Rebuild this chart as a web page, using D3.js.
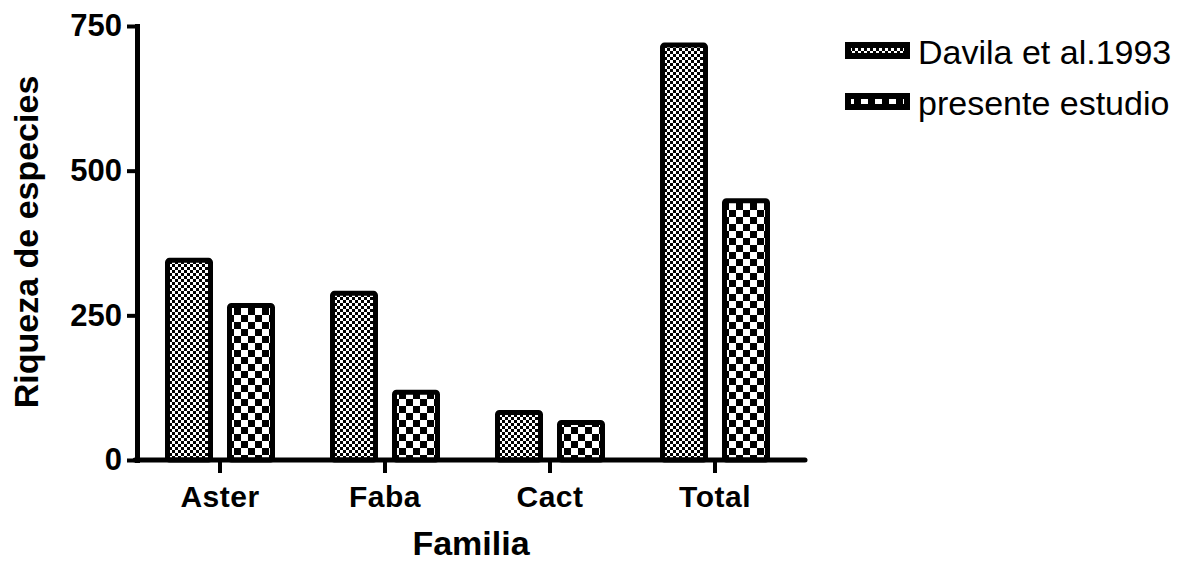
<!DOCTYPE html>
<html>
<head>
<meta charset="utf-8">
<script src="https://cdn.jsdelivr.net/npm/d3@7"></script>
<style>
  html, body { margin: 0; padding: 0; background: #fff; }
  svg { display: block; }
  text { font-family: "Liberation Sans", Arial, sans-serif; }
</style>
</head>
<body>
<svg id="chart" width="1191" height="563"></svg>
<script>
// ---- data ----
const categories = ["Aster", "Faba", "Cact", "Total"];
const seriesNames = ["Davila et al.1993", "presente estudio"];
const davilaValues = [345, 288, 82, 717];
const presenteValues = [267, 117, 65, 448];
const yTicks = [0, 250, 500, 750];
const yTitle = "Riqueza de especies";
const xTitle = "Familia";

const seriesValues = [davilaValues, presenteValues];
const patternIds = ["patFine", "patCoarse"];

const svg = d3.select("#chart");
const W = 1191, H = 563;
svg.append("rect").attr("width", W).attr("height", H).attr("fill", "#fff");

// ---- patterns ----
const defs = svg.append("defs");
function checker(id, cell) {
  const p = defs.append("pattern").attr("id", id)
    .attr("patternUnits", "userSpaceOnUse")
    .attr("width", cell * 2).attr("height", cell * 2);
  p.append("rect").attr("width", cell * 2).attr("height", cell * 2).attr("fill", "#fff");
  p.append("rect").attr("x", 0).attr("y", 0).attr("width", cell).attr("height", cell).attr("fill", "#000");
  p.append("rect").attr("x", cell).attr("y", cell).attr("width", cell).attr("height", cell).attr("fill", "#000");
}
checker("patFine", 3);
checker("patCoarse", 7);

// ---- scales ----
const axisX = 137, axisBottom = 460, axisTop = 26, axisRight = 805;
const y = d3.scaleLinear().domain([0, 750]).range([axisBottom, axisTop]);
const x0 = d3.scaleBand().domain(categories).range([137.5, 797.5]).padding(0);
const x1 = d3.scaleBand().domain(seriesNames).range([-62, 62]).padding(0);
const barW = 43;

// ---- bars ----
const groups = svg.append("g").selectAll("g").data(categories).join("g")
  .attr("transform", d => `translate(${x0(d) + x0.bandwidth() / 2},0)`);

groups.selectAll("rect")
  .data((c, i) => seriesNames.map((s, k) => ({ s, k, v: seriesValues[k][i] })))
  .join("rect")
  .attr("x", d => x1(d.s) + (x1.bandwidth() - barW) / 2)
  .attr("y", d => y(d.v))
  .attr("width", barW)
  .attr("height", d => y(0) - y(d.v))
  .attr("fill", d => `url(#${patternIds[d.k]})`)
  .attr("stroke", "#000")
  .attr("stroke-width", 5)
  .attr("stroke-linejoin", "round")
  .attr("rx", 2);

// ---- y axis ----
const yAxis = svg.append("g").attr("transform", `translate(${axisX},0)`)
  .call(d3.axisLeft(y).tickValues(yTicks).tickSize(10).tickPadding(5).tickSizeOuter(0));
yAxis.select(".domain").attr("stroke-width", 5).attr("stroke-linecap", "square");
yAxis.selectAll(".tick line").attr("stroke-width", 4);
yAxis.selectAll(".tick text")
  .attr("font-size", 31).attr("font-weight", "bold").attr("fill", "#000")
  .attr("font-family", "'Liberation Sans', Arial, sans-serif");

// ---- x axis ----
const xAxis = svg.append("g").attr("transform", `translate(0,${axisBottom})`)
  .call(d3.axisBottom(x0).tickSize(13).tickPadding(13).tickSizeOuter(0));
xAxis.select(".domain").remove();
xAxis.append("line").attr("x1", axisX - 2).attr("x2", axisRight)
  .attr("y1", 0).attr("y2", 0).attr("stroke", "#000").attr("stroke-width", 5)
  .attr("stroke-linecap", "round");
xAxis.selectAll(".tick line").attr("stroke-width", 4);
xAxis.selectAll(".tick text")
  .attr("font-size", 30).attr("font-weight", "bold").attr("fill", "#000")
  .attr("letter-spacing", 0.5)
  .attr("font-family", "'Liberation Sans', Arial, sans-serif");

// ---- axis titles ----
svg.append("text")
  .attr("transform", `translate(38,242) rotate(-90)`)
  .attr("text-anchor", "middle")
  .attr("font-size", 34).attr("font-weight", "bold")
  .text(yTitle);

svg.append("text")
  .attr("x", (axisX + axisRight) / 2).attr("y", 555)
  .attr("text-anchor", "middle")
  .attr("font-size", 34).attr("font-weight", "bold")
  .text(xTitle);

// ---- legend ----
const legend = svg.append("g");
const legendY = [50.5, 101.5];
seriesNames.forEach((s, k) => {
  legend.append("rect")
    .attr("x", 848).attr("y", legendY[k] - 5.5)
    .attr("width", 59).attr("height", 11)
    .attr("fill", `url(#${patternIds[k]})`)
    .attr("stroke", "#000").attr("stroke-width", 6);
  legend.append("text")
    .attr("x", 918).attr("y", legendY[k] + 13)
    .attr("font-size", 34)
    .text(s);
});
</script>
</body>
</html>
